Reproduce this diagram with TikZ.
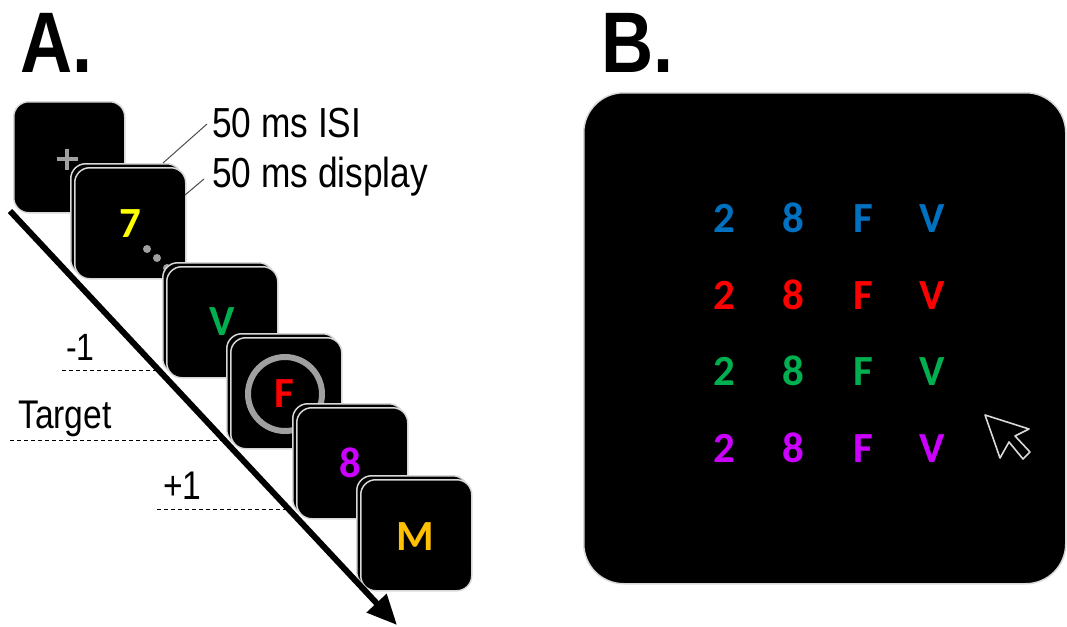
\documentclass[tikz,border=0pt]{standalone}
\usepackage{fontspec}
\setmainfont{Liberation Sans}[FakeStretch=0.84]
\newfontfamily\carl{Carlito}
\usetikzlibrary{arrows.meta}
\definecolor{cblue}{HTML}{0070C0}
\definecolor{cred}{HTML}{FF0000}
\definecolor{cgreen}{HTML}{00B050}
\definecolor{cpurple}{HTML}{CC00FF}
\definecolor{cyellow}{HTML}{FFFF00}
\definecolor{corange}{HTML}{FFC000}
\definecolor{rimgray}{HTML}{D8D8D8}
\definecolor{markgray}{HTML}{A0A0A0}
\tikzset{
  screen/.style={draw=rimgray, line width=1.5pt, fill=black, rounded corners=15pt,
    minimum width=111pt, minimum height=111pt, inner sep=0pt, anchor=north west},
  stim/.style={font=\carl\bfseries\fontsize{43}{46}\selectfont, anchor=base, inner sep=0pt},
  lbl/.style={font=\fontsize{41}{46}\selectfont, anchor=base west, inner sep=0pt},
  panel/.style={font=\bfseries\fontsize{86}{90}\selectfont, anchor=base west, inner sep=0pt},
  leader/.style={draw=black!70, line width=1pt},
  level/.style={draw=black, line width=1pt, dash pattern=on 4pt off 3pt},
  dotg/.style={fill=markgray, draw=none, circle, minimum size=8pt, inner sep=0pt}
}
\begin{document}
\begin{tikzpicture}[x=1pt,y=-1pt]
\useasboundingbox (0,0) rectangle (1067,626);
% Panel labels
\node[panel] (pA) at (20,73) {A.};
\node[panel] (pB) at (601,73) {B.};
% Panel A screens
\node[screen] (s1) at (13,101) {};
\draw[markgray, line width=4.5pt] (56.5,159) -- (77.5,159) (67,148.5) -- (67,169.5);
\node[screen] (s2b) at (70,163) {};
\node[screen] (s2) at (74,167) {};
\node[stim, text=cyellow] (t7) at (130,237) {7};
\node[dotg] (d1) at (147,249) {};
\node[dotg] (d2) at (157,258) {};
\node[dotg] (d3) at (167,268) {};
\node[screen] (s3b) at (162,262) {};
\node[screen] (s3) at (166,266) {};
\node[stim, text=cgreen] (tV) at (222,335) {V};
\node[screen] (s4b) at (226,333) {};
\node[screen] (s4) at (230,337) {};
\node[circle, draw=markgray, line width=6pt, minimum size=74pt, inner sep=0pt] (ring) at (285,394) {};
\node[stim, text=cred] (tF) at (284,407) {F};
\node[screen] (s5b) at (292,403) {};
\node[screen] (s5) at (296,407) {};
\node[stim, text=cpurple] (t8) at (350,477) {8};
\node[screen] (s6b) at (356,475) {};
\node[screen] (s6) at (360,479) {};
\node[stim, text=corange] (tM) at (415,550) {M};
% time arrow
\coordinate (ta0) at (10,211);
\coordinate (ta1) at (397,625);
\draw[line width=6pt, -{Triangle[length=30pt,width=26pt]}] (ta0) -- (ta1);
% timing labels
\node[lbl, font=\fontsize{42}{46}\selectfont] (isi) at (212,137) {50 ms ISI};
\node[lbl, font=\fontsize{42}{46}\selectfont] (disp) at (212,187) {50 ms display};
\coordinate (isiA) at (207,124);
\coordinate (isiB) at (163,163);
\coordinate (dispA) at (204,179);
\coordinate (dispB) at (185,195);
\draw[leader] (isiA) -- (isiB);
\draw[leader] (dispA) -- (dispB);
% lag labels
\node[lbl, font=\fontsize{38}{42}\selectfont] (lm1) at (66,360) {-1};
\node[lbl, font=\fontsize{40}{44}\selectfont] (ltg) at (18,428) {Target};
\node[lbl, font=\fontsize{40}{44}\selectfont] (lp1) at (163,499) {+1};
\coordinate (m1a) at (62,370);  \coordinate (m1b) at (159,370);
\coordinate (tga) at (10,440);  \coordinate (tgb) at (224,440);
\coordinate (p1a) at (157,509); \coordinate (p1b) at (289,509);
\draw[level] (m1a) -- (m1b);
\draw[level] (tga) -- (tgb);
\draw[level] (p1a) -- (p1b);
% Panel B
\node[draw=rimgray, line width=1.5pt, fill=black, rounded corners=40pt,
  minimum width=482pt, minimum height=491pt, inner sep=0pt, anchor=north west] (big) at (583,92) {};
\foreach \r/\yy/\cc in {1/232/cblue, 2/309/cred, 3/385/cgreen, 4/462/cpurple}{
  \node[stim, text=\cc] (g\r a) at (724,\yy) {2};
  \node[stim, text=\cc] (g\r b) at (793,\yy) {8};
  \node[stim, text=\cc] (g\r c) at (863,\yy) {F};
  \node[stim, text=\cc] (g\r d) at (932,\yy) {V};
}
% cursor
\draw[white!85!black, line width=1.6pt, line join=round]
  (985,415) -- (1000,458) -- (1009,442) -- (1023,459) -- (1030,452)
  -- (1015,436) -- (1029,429) -- cycle;
\end{tikzpicture}
\end{document}
